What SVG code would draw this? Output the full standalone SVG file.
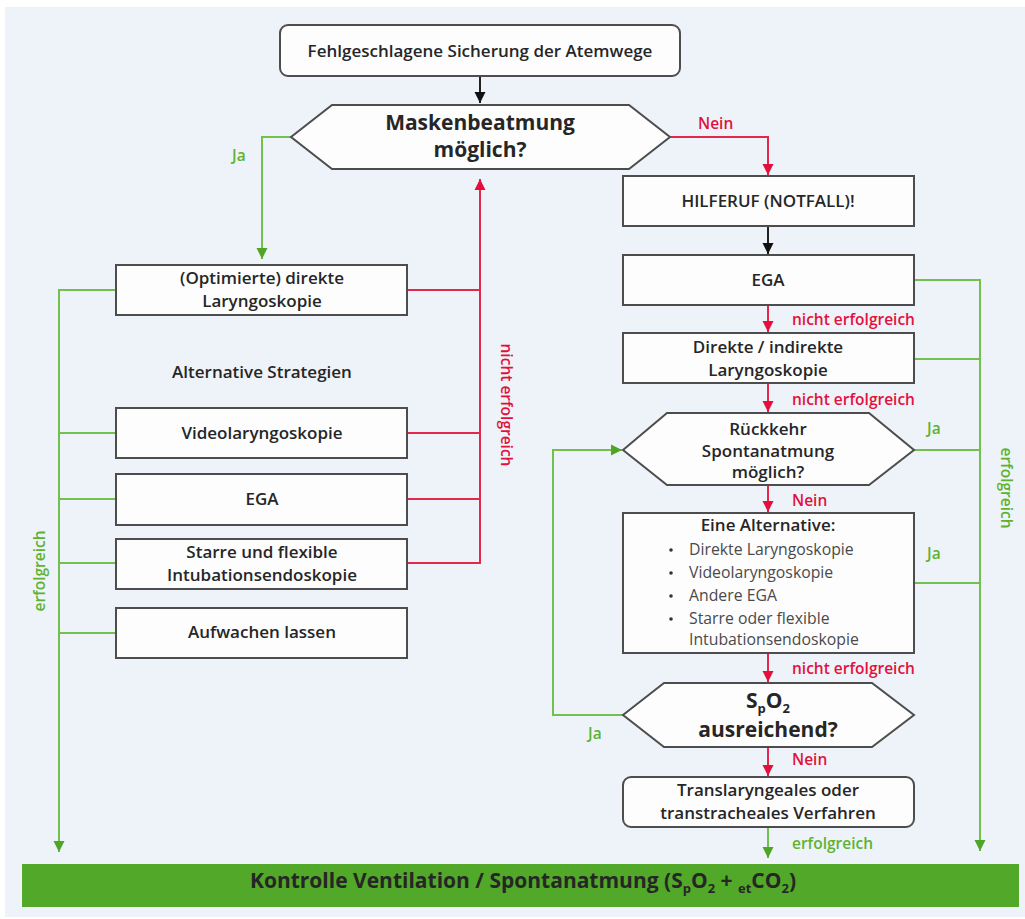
<svg xmlns="http://www.w3.org/2000/svg" width="1025" height="919" viewBox="0 0 1025 919">
<style>
.box{fill:#fdfdfe;stroke:#4d4d4d;stroke-width:2}
.t{font-family:"Open Sans","Liberation Sans",sans-serif;font-weight:600;font-size:17px;fill:#262626;text-anchor:middle}
.big{font-size:21px;font-weight:700}
.li{font-family:"Open Sans","Liberation Sans",sans-serif;font-weight:400;font-size:15.8px;fill:#4a4a4a}
.g{fill:none;stroke:#72c04e;stroke-width:2}
.r{fill:none;stroke:#e4284a;stroke-width:2}
.k{fill:none;stroke:#222;stroke-width:2}
.lg{font-family:"Open Sans","Liberation Sans",sans-serif;font-weight:600;font-size:15.5px;fill:#5db331}
.lr{font-family:"Open Sans","Liberation Sans",sans-serif;font-weight:600;font-size:15.5px;fill:#e3103d}
</style>
<defs>
<marker id="ag" viewBox="0 0 10 10" refX="10" refY="5" markerWidth="11" markerHeight="12" markerUnits="userSpaceOnUse" orient="auto"><path d="M0,0 L10,5 L0,10 z" fill="#4ea526"/></marker>
<marker id="ar" viewBox="0 0 10 10" refX="10" refY="5" markerWidth="11" markerHeight="12" markerUnits="userSpaceOnUse" orient="auto"><path d="M0,0 L10,5 L0,10 z" fill="#e3103d"/></marker>
<marker id="ak" viewBox="0 0 10 10" refX="10" refY="5" markerWidth="11" markerHeight="12" markerUnits="userSpaceOnUse" orient="auto"><path d="M0,0 L10,5 L0,10 z" fill="#111"/></marker>
</defs>
<rect x="5" y="7" width="1020" height="910" fill="#eef3f9"/>

<g id="connectors">
<path class="k" d="M480,76 V103" marker-end="url(#ak)"/>
<path class="k" d="M768,226 V254" marker-end="url(#ak)"/>
<path class="r" d="M670,137 H768 V175" marker-end="url(#ar)"/>
<path class="r" d="M407,290 H480 M407,433 H480 M407,499 H480"/>
<path class="r" d="M407,563 H480 V179" marker-end="url(#ar)"/>
<path class="r" d="M768,305 V332" marker-end="url(#ar)"/>
<path class="r" d="M768,383 V412" marker-end="url(#ar)"/>
<path class="r" d="M768,485 V512" marker-end="url(#ar)"/>
<path class="r" d="M768,653 V682" marker-end="url(#ar)"/>
<path class="r" d="M768,747 V776" marker-end="url(#ar)"/>
<path class="g" d="M291,137 H262 V259" marker-end="url(#ag)"/>
<path class="g" d="M116,433 H59 M116,499 H59 M116,563 H59 M116,633 H59"/>
<path class="g" d="M116,290 H59 V852" marker-end="url(#ag)"/>
<path class="g" d="M914,359 H980 M914,450 H980 M914,583 H980"/>
<path class="g" d="M914,280 H980 V851" marker-end="url(#ag)"/>
<path class="g" d="M768,827 V858" marker-end="url(#ag)"/>
<path class="g" d="M623,715 H553 V450 H622" marker-end="url(#ag)"/>
<text class="lg" x="232" y="161">Ja</text>
<text class="lr" x="698" y="129">Nein</text>
<text class="lr" x="501" y="405" text-anchor="middle" transform="rotate(90 501 405)">nicht erfolgreich</text>
<text class="lg" x="45" y="571" text-anchor="middle" transform="rotate(-90 45 571)">erfolgreich</text>
<text class="lg" x="1001" y="488" text-anchor="middle" transform="rotate(90 1001 488)">erfolgreich</text>
<text class="lr" x="792" y="325">nicht erfolgreich</text>
<text class="lr" x="792" y="405">nicht erfolgreich</text>
<text class="lg" x="927" y="434">Ja</text>
<text class="lr" x="792" y="506">Nein</text>
<text class="lg" x="927" y="559">Ja</text>
<text class="lr" x="792" y="674">nicht erfolgreich</text>
<text class="lg" x="588" y="739">Ja</text>
<text class="lr" x="792" y="765">Nein</text>
<text class="lg" x="792" y="849">erfolgreich</text>
</g>

<g id="start"><rect class="box" x="280" y="25" width="400" height="51" rx="8"/><text class="t" x="480" y="57">Fehlgeschlagene Sicherung der Atemwege</text></g>
<g id="masken"><polygon class="box" points="291,137 332,105 629,105 670,137 629,169 332,169"/><text class="t big" x="480" y="130">Maskenbeatmung</text><text class="t big" x="480" y="157">möglich?</text></g>
<g id="optimiert"><rect class="box" x="116" y="265" width="291" height="50"/><text class="t" x="262" y="284">(Optimierte) direkte</text><text class="t" x="262" y="307">Laryngoskopie</text></g>
<g id="alt-label"><text class="t" x="262" y="378">Alternative Strategien</text></g>
<g id="video"><rect class="box" x="116" y="408" width="291" height="50"/><text class="t" x="262" y="439">Videolaryngoskopie</text></g>
<g id="ega-left"><rect class="box" x="116" y="474" width="291" height="51"/><text class="t" x="262" y="505">EGA</text></g>
<g id="starre"><rect class="box" x="116" y="539" width="291" height="50"/><text class="t" x="262" y="558">Starre und flexible</text><text class="t" x="262" y="581">Intubationsendoskopie</text></g>
<g id="aufwachen"><rect class="box" x="116" y="608" width="291" height="50"/><text class="t" x="262" y="638">Aufwachen lassen</text></g>

<g id="hilferuf"><rect class="box" x="623" y="176" width="291" height="50"/><text class="t" x="768" y="207">HILFERUF (NOTFALL)!</text></g>
<g id="ega-right"><rect class="box" x="623" y="255" width="291" height="50"/><text class="t" x="768" y="286">EGA</text></g>
<g id="direkt"><rect class="box" x="623" y="333" width="291" height="50"/><text class="t" x="768" y="353">Direkte / indirekte</text><text class="t" x="768" y="376">Laryngoskopie</text></g>
<g id="rueckkehr"><polygon class="box" points="623,450 667,413 869,413 914,450 869,485 667,485"/><text class="t" x="768" y="435">Rückkehr</text><text class="t" x="768" y="457">Spontanatmung</text><text class="t" x="768" y="478">möglich?</text></g>
<g id="alternative"><rect class="box" x="623" y="513" width="291" height="140"/><text class="t" x="768" y="531">Eine Alternative:</text>
<g class="li"><circle cx="671" cy="550" r="1.8" fill="#333"/><circle cx="671" cy="573" r="1.8" fill="#333"/><circle cx="671" cy="596" r="1.8" fill="#333"/><circle cx="671" cy="619" r="1.8" fill="#333"/>
<text x="689" y="555">Direkte Laryngoskopie</text><text x="689" y="578">Videolaryngoskopie</text><text x="689" y="601">Andere EGA</text><text x="689" y="624">Starre oder flexible</text><text x="689" y="645">Intubationsendoskopie</text></g></g>
<g id="spo2"><polygon class="box" points="623,715 664,683 872,683 914,715 872,747 664,747"/><text class="t big" x="768" y="708">S<tspan font-size="13" dy="5">p</tspan><tspan dy="-5">O</tspan><tspan font-size="13" dy="5">2</tspan></text><text class="t big" x="768" y="737">ausreichend?</text></g>
<g id="trans"><rect class="box" x="623" y="777" width="291" height="50" rx="8"/><text class="t" x="768" y="796">Translaryngeales oder</text><text class="t" x="768" y="819">transtracheales Verfahren</text></g>
<g id="kontrolle"><rect x="22" y="864" width="997" height="43" fill="#52a828"/><text class="t big" x="523" y="888" fill="#1a1a1a">Kontrolle Ventilation / Spontanatmung (S<tspan font-size="13" dy="5">p</tspan><tspan dy="-5">O</tspan><tspan font-size="13" dy="5">2</tspan><tspan dy="-5"> + </tspan><tspan font-size="13" dy="5">et</tspan><tspan dy="-5">CO</tspan><tspan font-size="13" dy="5">2</tspan><tspan dy="-5">)</tspan></text></g>
</svg>
